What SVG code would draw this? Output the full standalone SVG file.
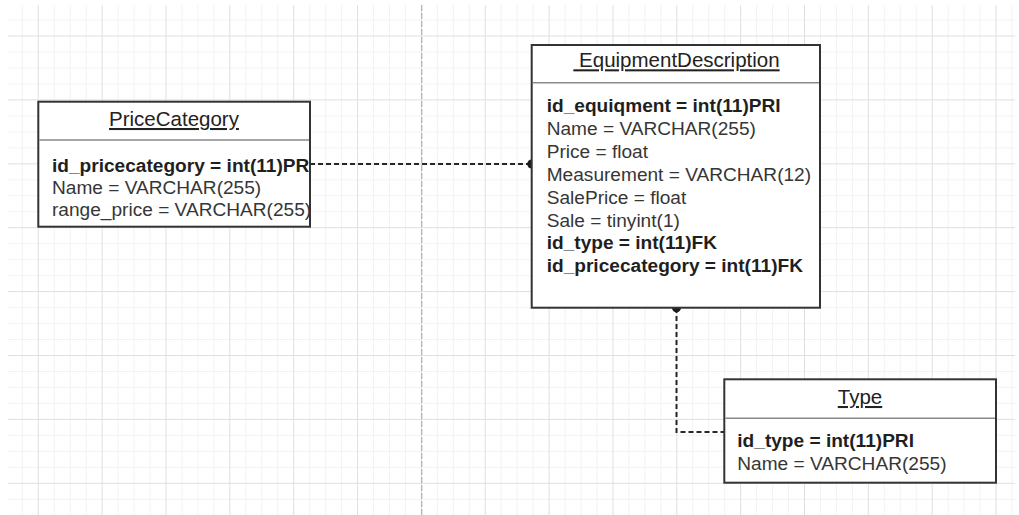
<svg xmlns="http://www.w3.org/2000/svg" width="1019" height="515" viewBox="0 0 1019 515">
  <style>
    .box { fill: #ffffff; stroke: #333333; stroke-width: 2; }
    .sep { stroke: #8a8a8a; stroke-width: 1.5; }
    .title { font-family: "Liberation Sans", Arial, sans-serif; font-size: 20.5px; fill: #222222; text-anchor: middle; text-decoration: underline; white-space: pre; }
    .b { font-family: "Liberation Sans", Arial, sans-serif; font-size: 19.1px; font-weight: bold; fill: #1f1f1f; }
    .r { font-family: "Liberation Sans", Arial, sans-serif; font-size: 19.1px; fill: #363636; }
    .conn { fill: none; stroke: #262626; stroke-width: 2; stroke-dasharray: 5 3; }
    .dot { fill: #1a1a1a; }
  </style>
  <defs>
    <pattern id="grid" x="37.8" y="35.5" width="63.85" height="63.9" patternUnits="userSpaceOnUse">
      <path d="M16.5 0V63.9M32.4 0V63.9M48.4 0V63.9M0 16.5H63.85M0 32.4H63.85M0 48.4H63.85" stroke="#f2f2f2" stroke-width="1" fill="none"/>
      <path d="M0.5 0V63.9M0 0.5H63.85" stroke="#dfdfdf" stroke-width="1" fill="none"/>
    </pattern>
  </defs>
  <rect x="0" y="0" width="1019" height="515" fill="#ffffff"/>
  <rect x="8" y="5" width="1007" height="510" fill="url(#grid)"/>
  <line x1="421.7" y1="5" x2="421.7" y2="515" stroke="#b8b8b8" stroke-width="1.4" stroke-dasharray="6 2"/>

  <g id="connectors">
    <path class="conn" d="M310 164H531.7"/>
    <circle class="dot" cx="531.7" cy="164" r="4.5"/>
    <path class="conn" d="M676.5 308V432H724.3"/>
    <circle class="dot" cx="676.5" cy="307.7" r="4.5"/>
  </g>

  <g id="PriceCategory">
    <rect class="box" x="38.3" y="101.7" width="271.7" height="125"/>
    <line class="sep" x1="39.3" y1="140" x2="309" y2="140"/>
    <text class="title" x="174" y="126">PriceCategory</text>
    <text class="b" x="52" y="171.5">id_pricecategory = int(11)PR</text>
    <text class="r" x="52" y="194">Name = VARCHAR(255)</text>
    <text class="r" x="52" y="216">range_price = VARCHAR(255)</text>
  </g>

  <g id="EquipmentDescription">
    <rect class="box" x="531.7" y="45" width="288.3" height="262.7"/>
    <line class="sep" x1="532.7" y1="82.7" x2="819" y2="82.7"/>
    <text class="title" x="676.5" y="67.3"> EquipmentDescription</text>
    <text class="b" x="546.7" y="112.3">id_equiqment = int(11)PRI</text>
    <text class="r" x="546.7" y="135.2">Name = VARCHAR(255)</text>
    <text class="r" x="546.7" y="158">Price = float</text>
    <text class="r" x="546.7" y="180.9">Measurement = VARCHAR(12)</text>
    <text class="r" x="546.7" y="203.7">SalePrice = float</text>
    <text class="r" x="546.7" y="226.6">Sale = tinyint(1)</text>
    <text class="b" x="546.7" y="249.4">id_type = int(11)FK</text>
    <text class="b" x="546.7" y="272.3">id_pricecategory = int(11)FK</text>
  </g>

  <g id="Type">
    <rect class="box" x="724.3" y="379.3" width="271.7" height="103.4"/>
    <line class="sep" x1="725.3" y1="418.3" x2="995" y2="418.3"/>
    <text class="title" x="860" y="404">Type</text>
    <text class="b" x="737.3" y="446.7">id_type = int(11)PRI</text>
    <text class="r" x="737.3" y="470">Name = VARCHAR(255)</text>
  </g>
</svg>
